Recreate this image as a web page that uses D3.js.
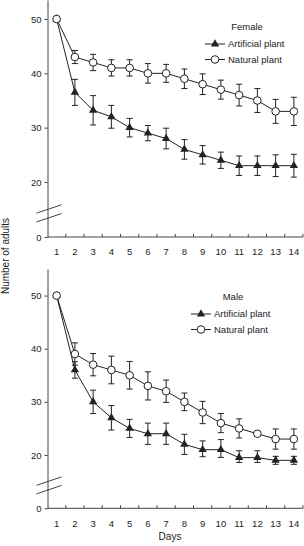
<!DOCTYPE html>
<html>
<head>
<meta charset="utf-8">
<script src="https://cdn.jsdelivr.net/npm/d3@7"></script>
<style>
  body { margin: 0; background: #fff; }
  text { font-family: "Liberation Sans", Arial, sans-serif; fill: #222; }
</style>
</head>
<body>
<script>
// values
var days = [1, 2, 3, 4, 5, 6, 7, 8, 9, 10, 11, 12, 13, 14];
var yTicks = [0, 20, 30, 40, 50];

var femaleArtificial    = [50, 36.5, 33.2, 32, 30, 29, 28, 26, 25, 24, 23, 23, 23, 23];
var femaleArtificialErr = [0, 2.4, 2.7, 2.1, 1.7, 1.4, 1.9, 1.8, 1.7, 1.5, 1.8, 1.8, 2.0, 2.1];
var femaleNatural       = [50, 43, 42, 41, 41, 40, 40, 39, 38, 37, 36, 35, 33, 33];
var femaleNaturalErr    = [0, 1.2, 1.5, 1.5, 1.5, 1.8, 1.65, 1.8, 1.9, 1.75, 2.0, 2.2, 2.2, 2.6];

var maleArtificial    = [50, 36, 30, 27, 25, 24, 24, 22, 21, 21, 19, 19, 18, 18];
var maleArtificialErr = [0, 1.55, 2.2, 2.3, 1.7, 2.0, 2.0, 1.9, 1.65, 1.9, 1.8, 1.8, 1.5, 1.5];
var maleNatural       = [50, 39, 37, 36, 35, 33, 32, 30, 28, 26, 25, 24, 23, 23];
var maleNaturalErr    = [0, 2.1, 2.1, 2.6, 2.6, 2.65, 2.1, 1.66, 2.1, 1.8, 1.8, 0.4, 1.9, 1.9];

var seriesNames = ["Artificial plant", "Natural plant"];

var width = 304;
var height = 546;
var ink = "#222";

var svg = d3.select("body").append("svg")
    .attr("width", width)
    .attr("height", height);

// shared x scale, days sit in the middle of each band
var x = d3.scaleBand()
    .domain(days)
    .range([47.5, 303]);
var cx = function(d) { return x(d) + x.bandwidth() / 2; };

function drawPanel(p) {
  var g = svg.append("g");

  // broken y axis: 0 sits below the break, 20..top is linear
  var y = d3.scaleLinear()
      .domain([0, 20, p.topValue])
      .range([p.yZero, p.yTwenty, p.yTop]);

  var yAxis = d3.axisLeft(y)
      .tickValues(yTicks)
      .tickSizeInner(3)
      .tickSizeOuter(0)
      .tickPadding(3);
  var ya = g.append("g")
      .attr("transform", "translate(" + x.range()[0] + ",0)")
      .call(yAxis);
  ya.selectAll("path, line").attr("stroke", "#444");
  ya.selectAll("text").style("font-size", "9.5px").attr("fill", ink);

  // x axis line + inner ticks at band edges
  g.append("line")
      .attr("x1", x.range()[0]).attr("x2", x.range()[1])
      .attr("y1", y(0)).attr("y2", y(0))
      .attr("stroke", "#444");
  var edges = days.slice(1).map(function(d) { return x(d); }).concat([x.range()[1]]);
  g.selectAll(".xt")
      .data(edges)
    .enter().append("line")
      .attr("x1", function(d) { return d; })
      .attr("x2", function(d) { return d; })
      .attr("y1", y(0))
      .attr("y2", y(0) - 3)
      .attr("stroke", "#444");

  var xa = g.append("g")
      .attr("transform", "translate(0," + y(0) + ")")
      .call(d3.axisBottom(x).tickSize(0).tickPadding(11.5));
  xa.select(".domain").remove();
  xa.selectAll("text").style("font-size", "9.5px").attr("fill", ink);

  // break marks on the y axis
  g.selectAll(".brk")
      .data([7, 10.2])
    .enter().append("line")
      .attr("x1", x.range()[0] - 11)
      .attr("x2", x.range()[0] + 14)
      .attr("y1", function(d) { return y(d) + 4.2; })
      .attr("y2", function(d) { return y(d) - 4.2; })
      .attr("stroke", "#444");

  var line = d3.line()
      .x(function(d, i) { return cx(days[i]); })
      .y(function(d) { return y(d); });

  var series = [
    { vals: p.artificial, err: p.artificialErr, kind: "tri" },
    { vals: p.natural, err: p.naturalErr, kind: "circ" }
  ];

  series.forEach(function(s) {
    g.append("path")
        .datum(s.vals)
        .attr("d", line)
        .attr("fill", "none")
        .attr("stroke", ink)
        .attr("stroke-width", 1);

    var eb = g.selectAll(null)
        .data(s.vals.map(function(v, i) { return { day: days[i], v: v, e: s.err[i] }; })
                    .filter(function(d) { return d.e > 0; }))
      .enter().append("g");
    eb.append("line")
        .attr("x1", function(d) { return cx(d.day); })
        .attr("x2", function(d) { return cx(d.day); })
        .attr("y1", function(d) { return y(d.v - d.e); })
        .attr("y2", function(d) { return y(d.v + d.e); })
        .attr("stroke", ink);
    [-1, 1].forEach(function(sign) {
      eb.append("line")
          .attr("x1", function(d) { return cx(d.day) - 3; })
          .attr("x2", function(d) { return cx(d.day) + 3; })
          .attr("y1", function(d) { return y(d.v + sign * d.e); })
          .attr("y2", function(d) { return y(d.v + sign * d.e); })
          .attr("stroke", ink);
    });

    var pts = s.vals.map(function(v, i) { return { day: days[i], v: v }; });
    if (s.kind == "tri") {
      g.selectAll(null)
          .data(pts)
        .enter().append("path")
          .attr("d", d3.symbol().type(d3.symbolTriangle).size(30))
          .attr("transform", function(d) { return "translate(" + cx(d.day) + "," + y(d.v) + ")"; })
          .attr("fill", ink);
    } else {
      g.selectAll(null)
          .data(pts)
        .enter().append("circle")
          .attr("cx", function(d) { return cx(d.day); })
          .attr("cy", function(d) { return y(d.v); })
          .attr("r", 3.8)
          .attr("fill", "#fff")
          .attr("stroke", ink);
    }
  });

  // legend
  var lg = g.append("g").attr("transform", "translate(" + p.legendX + "," + p.legendY + ")");
  lg.append("text")
      .attr("x", 42).attr("y", -11.5)
      .attr("text-anchor", "middle")
      .style("font-size", "9.5px")
      .text(p.title);
  seriesNames.forEach(function(name, i) {
    var ly = 3 + i * 15.5;
    lg.append("line")
        .attr("x1", 0).attr("x2", 20)
        .attr("y1", ly).attr("y2", ly)
        .attr("stroke", ink);
    if (i == 0) {
      lg.append("path")
          .attr("d", d3.symbol().type(d3.symbolTriangle).size(30))
          .attr("transform", "translate(10," + ly + ")")
          .attr("fill", ink);
    } else {
      lg.append("circle")
          .attr("cx", 10).attr("cy", ly).attr("r", 3.8)
          .attr("fill", "#fff").attr("stroke", ink);
    }
    lg.append("text")
        .attr("x", 23).attr("y", ly + 3.4)
        .style("font-size", "9.5px")
        .text(name);
  });
}

drawPanel({
  title: "Female",
  topValue: 53.5, yTop: 0, yTwenty: 182, yZero: 237,
  artificial: femaleArtificial, artificialErr: femaleArtificialErr,
  natural: femaleNatural, naturalErr: femaleNaturalErr,
  legendX: 205, legendY: 41
});

drawPanel({
  title: "Male",
  topValue: 55, yTop: 269, yTwenty: 455, yZero: 508.3,
  artificial: maleArtificial, artificialErr: maleArtificialErr,
  natural: maleNatural, naturalErr: maleNaturalErr,
  legendX: 191, legendY: 311
});

// shared labels
svg.append("text")
    .attr("transform", "translate(9,256) rotate(-90)")
    .attr("text-anchor", "middle")
    .style("font-size", "10px")
    .text("Number of adults");

svg.append("text")
    .attr("x", 170).attr("y", 540)
    .attr("text-anchor", "middle")
    .style("font-size", "10px")
    .text("Days");
</script>
</body>
</html>
